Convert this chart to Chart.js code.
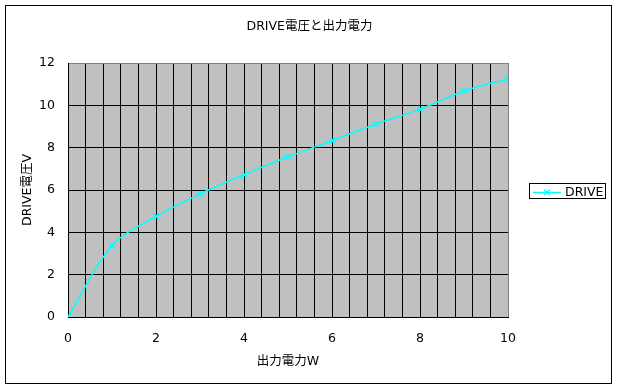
<!DOCTYPE html>
<html>
<head>
<meta charset="utf-8">
<script src="https://cdn.jsdelivr.net/npm/chart.js@4.4.0/dist/chart.umd.min.js"></script>
<style>
  html, body { margin: 0; padding: 0; background: #ffffff; }
  #wrap { width: 619px; height: 388px; }
</style>
</head>
<body>
<div id="wrap"><canvas id="c" width="619" height="388"></canvas></div>
<script>
// ---- data ----
const chartTitle = 'DRIVE電圧と出力電力';
const xAxisTitle = '出力電力W';
const yAxisTitle = 'DRIVE電圧V';
const seriesName = 'DRIVE';
const outputPowerW = [0, 1, 2, 3, 4, 5, 6, 7, 8, 9, 10];
const driveVoltageV = [0, 3.37, 4.75, 5.82, 6.72, 7.57, 8.33, 9.12, 9.81, 10.68, 11.26];
const xLabelValues = [0, 2, 4, 6, 8, 10];
const yLabelValues = [0, 2, 4, 6, 8, 10, 12];

const FONT = '"DejaVu Sans", "Noto Sans CJK JP", sans-serif';
Chart.defaults.font.family = FONT;
Chart.defaults.font.size = 12.5;
Chart.defaults.color = '#000000';

const LINE_COLOR = '#00FFFF';

const frame = {
  id: 'frame',
  beforeDraw(chart) {
    const ctx = chart.ctx;
    const a = chart.chartArea;
    ctx.save();
    ctx.fillStyle = '#ffffff';
    ctx.fillRect(0, 0, chart.width, chart.height);
    ctx.strokeStyle = '#000000';
    ctx.lineWidth = 1;
    ctx.strokeRect(5.5, 5.5, 606, 378);
    ctx.fillStyle = '#C0C0C0';
    ctx.fillRect(a.left, a.top, a.right - a.left, a.bottom - a.top);
    ctx.restore();
  },
  afterDraw(chart) {
    const ctx = chart.ctx;
    const ds = chart.data.datasets[0];
    ctx.save();
    ctx.fillStyle = '#ffffff';
    ctx.fillRect(529.5, 183.5, 76, 15);
    ctx.strokeStyle = '#000000';
    ctx.lineWidth = 1;
    ctx.strokeRect(529.5, 183.5, 76, 15);
    ctx.strokeStyle = ds.borderColor;
    ctx.lineWidth = 1.5;
    ctx.beginPath();
    ctx.moveTo(533, 192.5);
    ctx.lineTo(561, 192.5);
    ctx.stroke();
    ctx.lineWidth = 1.5;
    Chart.helpers.drawPoint(ctx, { pointStyle: 'crossRot', radius: 4, rotation: 0, borderWidth: 1.5 }, 547, 192.5);
    ctx.fillStyle = '#000000';
    ctx.font = '12.5px ' + FONT;
    ctx.textAlign = 'left';
    ctx.textBaseline = 'middle';
    ctx.fillText(ds.label, 565, 193);
    ctx.restore();
  }
};

const near = (a, b) => Math.abs(a - b) < 1e-6;

new Chart(document.getElementById('c'), {
  type: 'line',
  data: {
    datasets: [{
      label: seriesName,
      data: outputPowerW.map((x, i) => ({ x: x, y: driveVoltageV[i] })),
      borderColor: LINE_COLOR,
      backgroundColor: LINE_COLOR,
      borderWidth: 1.5,
      tension: 0.33,
      pointStyle: 'crossRot',
      pointRadius: 4,
      pointBorderWidth: 1.5,
      pointBorderColor: LINE_COLOR,
      fill: false
    }]
  },
  options: {
    responsive: false,
    animation: false,
    devicePixelRatio: 1,
    layout: { padding: 0 },
    plugins: {
      legend: { display: false },
      tooltip: { enabled: false },
      title: {
        display: true,
        text: chartTitle,
        color: '#000000',
        font: { size: 12.5, weight: 'normal', family: FONT, lineHeight: 1.2 },
        padding: { top: 19, bottom: 29 }
      }
    },
    scales: {
      x: {
        type: 'linear',
        position: 'bottom',
        min: 0,
        max: 10,
        afterFit: s => { s.height = 71; },
        ticks: {
          stepSize: 0.4,
          autoSkip: false,
          maxRotation: 0,
          padding: 14,
          color: '#000000',
          font: { size: 12.5 },
          callback: v => {
            const hit = xLabelValues.find(l => near(l, v));
            return hit === undefined ? '' : String(hit);
          }
        },
        grid: {
          drawTicks: false,
          lineWidth: 1,
          color: c => (c.tick && near(c.tick.value, 10)) ? '#808080' : '#000000'
        },
        border: { display: true, color: '#000000', width: 1 },
        title: {
          display: true,
          text: xAxisTitle,
          color: '#000000',
          font: { size: 12.5, lineHeight: 1.2 },
          padding: { top: 0, bottom: 19 }
        }
      },
      y: {
        type: 'linear',
        position: 'left',
        min: 0,
        max: 12,
        afterFit: s => { s.width = 68; },
        ticks: {
          stepSize: 2,
          padding: 13,
          color: '#000000',
          font: { size: 12.5 },
          callback: v => {
            const hit = yLabelValues.find(l => near(l, v));
            return hit === undefined ? '' : String(hit);
          }
        },
        grid: {
          drawTicks: false,
          lineWidth: 1,
          color: c => (c.tick && near(c.tick.value, 12)) ? '#808080' : '#000000'
        },
        border: { display: true, color: '#000000', width: 1 },
        title: {
          display: true,
          text: yAxisTitle,
          color: '#000000',
          font: { size: 12.5, lineHeight: 1.2 },
          padding: { top: 20, bottom: 0 }
        }
      },
      legendSpace: {
        type: 'linear',
        position: 'right',
        display: true,
        afterFit: s => { s.width = 111; },
        ticks: { display: false },
        grid: { display: false, drawTicks: false },
        border: { display: false },
        title: { display: false }
      }
    }
  },
  plugins: [frame]
});
</script>
</body>
</html>
